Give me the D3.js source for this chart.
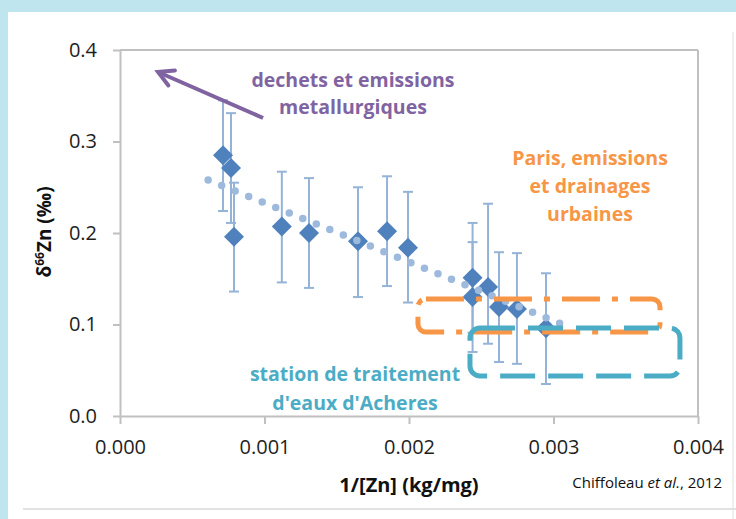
<!DOCTYPE html>
<html>
<head>
<meta charset="utf-8">
<script src="https://cdn.jsdelivr.net/npm/d3@7"></script>
<style>
  html, body { margin: 0; padding: 0; background: #fff; }
  svg { display: block; }
  text { font-family: "Open Sans", "Liberation Sans", sans-serif; }
</style>
</head>
<body>
<svg id="chart" width="736" height="519"></svg>
<script>
// Zn isotope ratio versus inverse Zn concentration
const xValues = [0.000713, 0.000768, 0.000789, 0.00112, 0.001308, 0.001647, 0.001848,
                 0.001993, 0.00244, 0.00244, 0.002547, 0.002623, 0.002747, 0.002948];
const yValues = [0.285, 0.271, 0.196, 0.207, 0.200, 0.191, 0.202,
                 0.184, 0.151, 0.130, 0.141, 0.119, 0.117, 0.096];
const errPlus  = [0.060, 0.060, 0.059, 0.060, 0.060, 0.059, 0.060,
                  0.061, 0.060, 0.060, 0.091, 0.060, 0.061, 0.060];
const errMinus = [0.061, 0.060, 0.060, 0.061, 0.060, 0.061, 0.060,
                  0.060, 0.060, 0.060, 0.062, 0.060, 0.060, 0.061];
// linear trend line end points
const trendX = [0.00061, 0.00307];
const trendY = [0.258, 0.0995];

const xTicks = [0, 0.001, 0.002, 0.003, 0.004];
const yTicks = [0, 0.1, 0.2, 0.3, 0.4];

const xTitle = "1/[Zn] (kg/mg)";
const credit = "Chiffoleau ";
const purpleLines = ["dechets et emissions", "metallurgiques"];
const orangeLines = ["Paris, emissions", "et drainages", "urbaines"];
const tealLines = ["station de traitement", "d'eaux d'Acheres"];

const svg = d3.select("#chart");
const W = 736, H = 519;

// slide frame
svg.append("rect").attr("width", W).attr("height", H).attr("fill", "#fff");
svg.append("rect").attr("x", 0).attr("y", 0).attr("width", W).attr("height", 12).attr("fill", "#BFE6EE");
svg.append("rect").attr("x", 0).attr("y", 0).attr("width", 8).attr("height", H).attr("fill", "#BFE6EE");
svg.append("line").attr("x1", 733).attr("x2", 733).attr("y1", 32).attr("y2", H)
  .attr("stroke", "#EBEBEB").attr("stroke-width", 1.5);
svg.append("line").attr("x1", 23).attr("x2", W).attr("y1", 509).attr("y2", 509)
  .attr("stroke", "#D9D9D9").attr("stroke-width", 1.5);

const x = d3.scaleLinear().domain([0, 0.004]).range([120, 698]);
const y = d3.scaleLinear().domain([0, 0.4]).range([416, 50]);

const axisColor = "#C0C0C0";

// plot area border (top and right)
svg.append("line").attr("x1", x(0)).attr("x2", x(0.004)).attr("y1", y(0.4)).attr("y2", y(0.4))
  .attr("stroke", axisColor).attr("stroke-width", 2);
svg.append("line").attr("x1", x(0.004)).attr("x2", x(0.004)).attr("y1", y(0.4)).attr("y2", y(0))
  .attr("stroke", axisColor).attr("stroke-width", 2);

// axes
const gx = svg.append("g").attr("transform", `translate(0,${y(0)})`)
  .call(d3.axisBottom(x).tickValues(xTicks).tickFormat(d3.format(".3f"))
    .tickSize(8).tickSizeOuter(0).tickPadding(16));
const gy = svg.append("g").attr("transform", `translate(${x(0)},0)`)
  .call(d3.axisLeft(y).tickValues(yTicks).tickFormat(d3.format(".1f"))
    .tickSize(7).tickSizeOuter(0).tickPadding(16));
[gx, gy].forEach(g => {
  g.select(".domain").attr("stroke", axisColor).attr("stroke-width", 2);
  g.selectAll(".tick line").attr("stroke", axisColor).attr("stroke-width", 2);
  g.selectAll(".tick text").attr("fill", "#1E1E1E").style("font-size", "20px")
    .style("font-family", "'Open Sans', sans-serif");
});

// axis titles
svg.append("text").attr("x", 409).attr("y", 492).attr("text-anchor", "middle")
  .style("font-size", "20px").style("font-weight", "bold").attr("fill", "#111")
  .text(xTitle);

const yt = svg.append("text").attr("transform", "translate(51,232) rotate(-90)")
  .attr("text-anchor", "middle")
  .style("font-size", "19px").style("font-weight", "bold").attr("fill", "#111");
yt.append("tspan").text("δ");
yt.append("tspan").attr("dy", -7).style("font-size", "12px").text("66");
yt.append("tspan").attr("dy", 7).text("Zn (‰)");

// credit line
const cr = svg.append("text").attr("x", 722).attr("y", 488).attr("text-anchor", "end")
  .style("font-size", "15px").attr("fill", "#111");
cr.append("tspan").text(credit);
cr.append("tspan").style("font-style", "italic").text("et al.");
cr.append("tspan").text(", 2012");

const pts = xValues.map((v, i) => ({ x: v, y: yValues[i], hi: yValues[i] + errPlus[i], lo: yValues[i] - errMinus[i] }));

// error bars
const errColor = "#95B3D7";
const eb = svg.append("g").attr("stroke", errColor).attr("stroke-width", 2).attr("fill", "none");
pts.forEach(p => {
  const cx = x(p.x);
  eb.append("line").attr("x1", cx).attr("x2", cx).attr("y1", y(p.hi)).attr("y2", y(p.lo));
  eb.append("line").attr("x1", cx - 5).attr("x2", cx + 5).attr("y1", y(p.hi)).attr("y2", y(p.hi));
  eb.append("line").attr("x1", cx - 5).attr("x2", cx + 5).attr("y1", y(p.lo)).attr("y2", y(p.lo));
});

// diamond markers
const r = 10;
svg.append("g").selectAll("path").data(pts).join("path")
  .attr("d", p => {
    const cx = x(p.x), cy = y(p.y);
    return `M${cx},${cy - r}L${cx + r},${cy}L${cx},${cy + r}L${cx - r},${cy}Z`;
  })
  .attr("fill", "#4F81BD");

// dotted trend line
svg.append("line")
  .attr("x1", x(trendX[0])).attr("y1", y(trendY[0]))
  .attr("x2", x(trendX[1])).attr("y2", y(trendY[1]))
  .attr("stroke", "#9DBADD").attr("stroke-width", 7.5)
  .attr("stroke-linecap", "round").attr("stroke-dasharray", "0 14.6");

// source boxes
function roundRect(x0, y0, x1, y1, rad) {
  const p = d3.path();
  p.moveTo(x0 + rad, y0);
  p.lineTo(x1 - rad, y0); p.arcTo(x1, y0, x1, y0 + rad, rad);
  p.lineTo(x1, y1 - rad); p.arcTo(x1, y1, x1 - rad, y1, rad);
  p.lineTo(x0 + rad, y1); p.arcTo(x0, y1, x0, y1 - rad, rad);
  p.lineTo(x0, y0 + rad); p.arcTo(x0, y0, x0 + rad, y0, rad);
  p.closePath();
  return p.toString();
}
svg.append("path")
  .attr("d", roundRect(x(0.002062), y(0.128), x(0.003737), y(0.0918), 8))
  .attr("fill", "none").attr("stroke", "#F79646").attr("stroke-width", 5)
  .attr("stroke-dasharray", "38 12 6 12");
svg.append("path")
  .attr("d", roundRect(x(0.002422), y(0.0962), x(0.003875), y(0.0437), 10))
  .attr("fill", "none").attr("stroke", "#4BACC6").attr("stroke-width", 5)
  .attr("stroke-dasharray", "35 13");

// purple arrow
const purple = "#8064A2";
const tail = [x(0.00099), y(0.3257)], tip = [x(0.000263), y(0.376)];
const ang = Math.atan2(tip[1] - tail[1], tip[0] - tail[0]);
const ah = 17;
svg.append("line").attr("x1", tail[0]).attr("y1", tail[1]).attr("x2", tip[0]).attr("y2", tip[1])
  .attr("stroke", purple).attr("stroke-width", 4);
svg.append("path")
  .attr("d", `M${tip[0] - ah * Math.cos(ang - 0.5)},${tip[1] - ah * Math.sin(ang - 0.5)}L${tip[0]},${tip[1]}L${tip[0] - ah * Math.cos(ang + 0.5)},${tip[1] - ah * Math.sin(ang + 0.5)}`)
  .attr("fill", "none").attr("stroke", purple).attr("stroke-width", 4)
  .attr("stroke-linejoin", "miter").attr("stroke-linecap", "round");

function block(lines, cx, y0, lh, color) {
  svg.append("g").selectAll("text").data(lines).join("text")
    .attr("x", cx).attr("y", (d, i) => y0 + i * lh).attr("text-anchor", "middle")
    .style("font-size", "19.5px").style("font-weight", "bold").attr("fill", color)
    .text(d => d);
}
block(purpleLines, 353, 87, 27, purple);
block(orangeLines, 590, 165, 28, "#F79646");
block(tealLines, 355, 381, 29, "#4BACC6");
</script>
</body>
</html>
